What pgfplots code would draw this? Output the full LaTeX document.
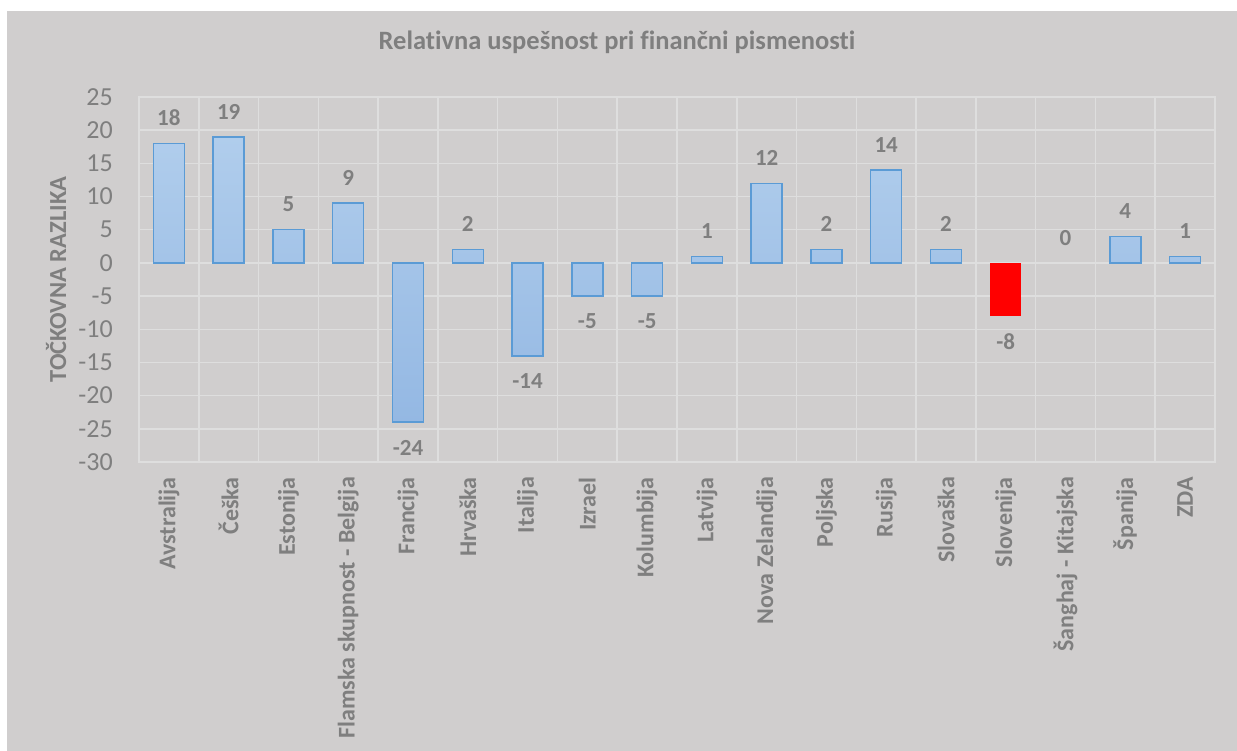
\documentclass[border=0pt]{standalone}
\usepackage{fontspec}
\setmainfont{Carlito}[Ligatures=NoCommon]
\usepackage{pgfplots}
\pgfplotsset{compat=1.18}
\definecolor{bg}{HTML}{D0CECE}
\definecolor{txt}{HTML}{7F7F7F}
\definecolor{grd}{HTML}{DEDEDE}
\definecolor{bartop}{HTML}{B0CDEC}
\definecolor{barbot}{HTML}{94B8E3}
\definecolor{barline}{HTML}{5B9BD5}
\begin{document}
\begin{tikzpicture}[x=1pt,y=1pt]
\fill[white] (0,0) rectangle (1237,751);
\fill[bg] (7,0) rectangle (1237,740);
\begin{axis}[
  at={(139pt,289pt)}, anchor=south west,
  scale only axis, width=1076pt, height=365pt,
  xmin=-0.5, xmax=17.5, ymin=-30, ymax=25,
  ytick={-30,-25,...,25},
  xtick={0,...,17},
  xticklabels={Avstralija,Češka,Estonija,Flamska skupnost - Belgija,Francija,Hrvaška,Italija,Izrael,Kolumbija,Latvija,Nova Zelandija,Poljska,Rusija,Slovaška,Slovenija,Šanghaj - Kitajska,Španija,ZDA},
  minor xtick={-0.5,0.5,...,17.5},
  ymajorgrids, xminorgrids,
  grid style={grd, line width=1.5pt},
  minor grid style={grd, line width=1.5pt},
  axis line style={grd, line width=1.5pt},
  major tick length=0pt, minor tick length=0pt,
  tick style={draw=none},
  /pgf/number format/assume math mode=true,
  yticklabel style={font=\fontsize{26}{31}\selectfont, text=txt, inner sep=0pt, xshift=-26pt, anchor=east},
  xticklabel style={font=\bfseries\fontsize{24}{29}\selectfont, text=txt, inner sep=0pt, yshift=-15pt, rotate=90, anchor=east},
  ylabel={TOČKOVNA RAZLIKA},
  ylabel style={at={(axis description cs:-0.0771,0.5)}, anchor=center, font=\bfseries\fontsize{24.5}{29}\selectfont, text=txt},
  title={Relativna uspešnost pri finančni pismenosti},
  title style={at={(axis description cs:0.4442,1.1123)}, anchor=base, font=\bfseries\fontsize{26.5}{31}\selectfont, text=txt},
  nodes near coords style={font=\bfseries\fontsize{23}{27}\selectfont, text=txt, inner sep=17pt},
]
\addplot[ybar, bar width=31pt, bar shift=0pt, draw=barline, line width=1.5pt, top color=bartop, bottom color=barbot, nodes near coords]
coordinates {(0,18) (1,19) (2,5) (3,9) (4,-24) (5,2) (6,-14) (7,-5) (8,-5) (9,1) (10,12) (11,2) (12,14) (13,2) (16,4) (17,1)};
\addplot[ybar, bar width=31pt, bar shift=0pt, draw=none, fill=red, nodes near coords]
coordinates {(14,-8)};
\addplot[ybar, bar width=31pt, bar shift=0pt, draw=none, fill=none, nodes near coords]
coordinates {(15,0)};
\end{axis}
\end{tikzpicture}
\end{document}
